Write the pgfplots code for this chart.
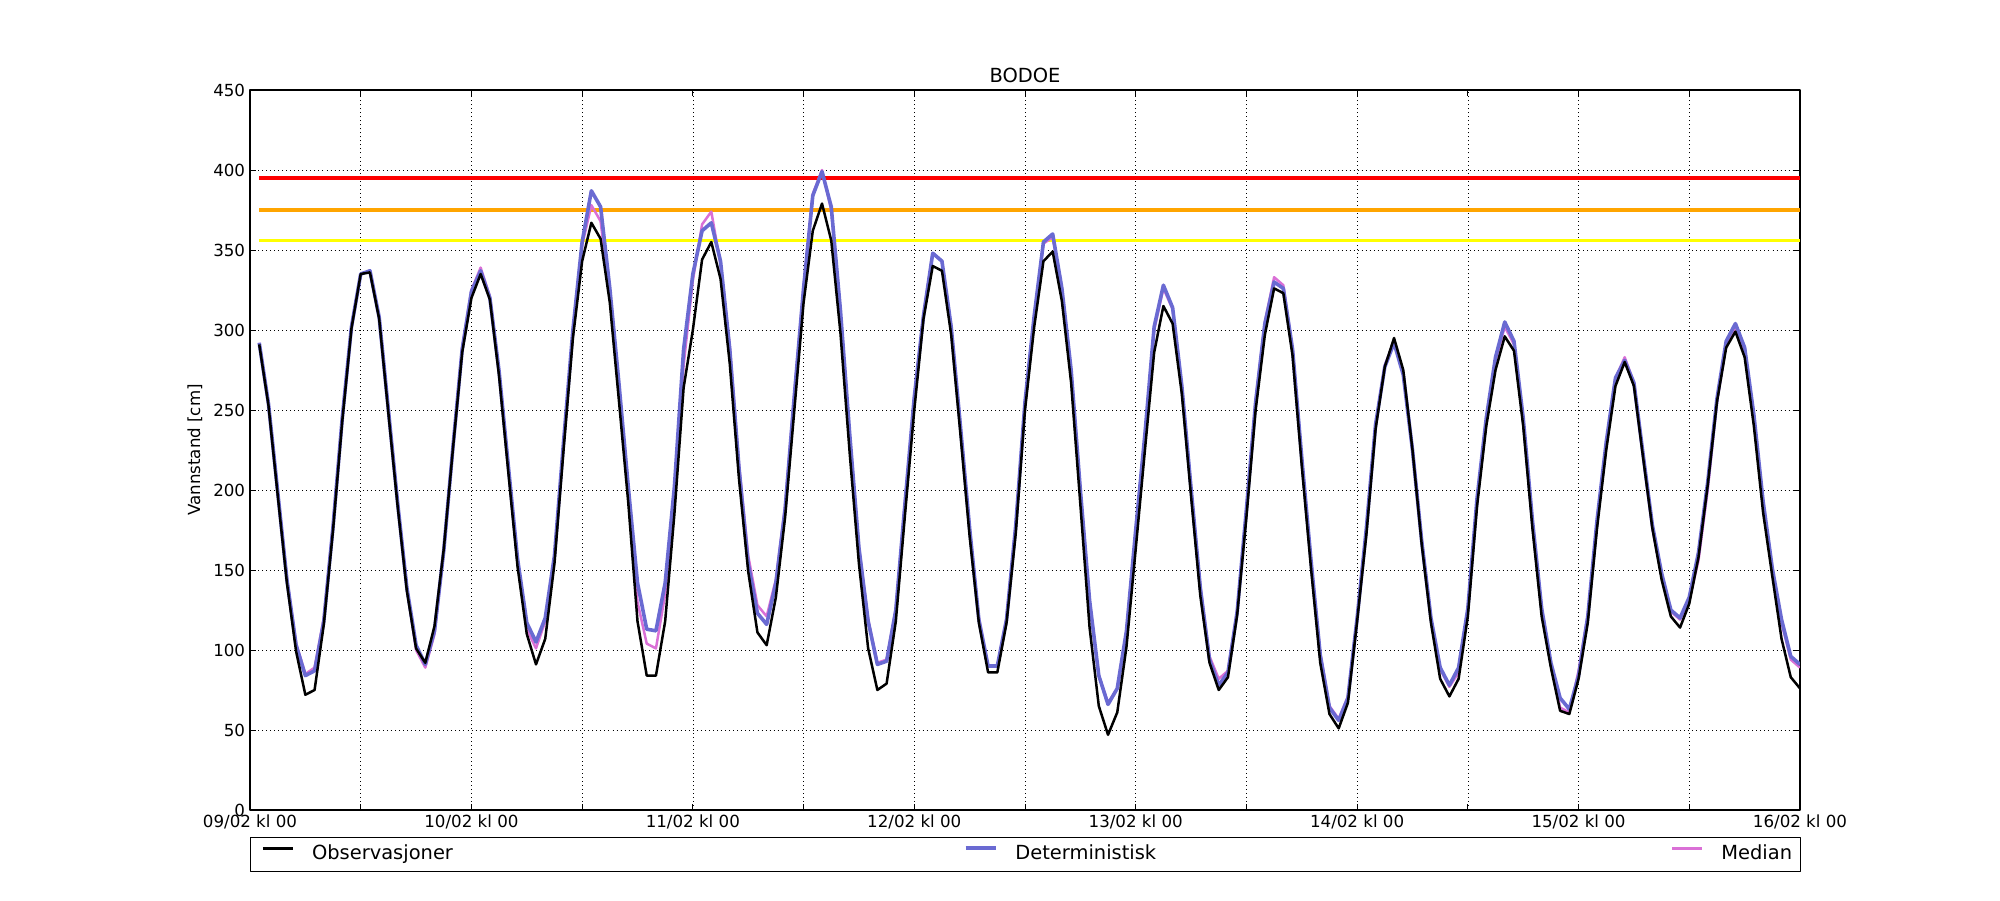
\documentclass[border=0pt]{standalone}
\usepackage{fontspec}
\setmainfont{DejaVu Sans}
\usepackage{pgfplots}
\usepackage{pgfplotstable}
\pgfplotsset{compat=1.18}
\definecolor{detblue}{RGB}{106,106,210}
\definecolor{medpink}{RGB}{218,112,214}
\definecolor{thrred}{RGB}{255,0,0}
\definecolor{throrange}{RGB}{255,165,0}
\definecolor{thryellow}{RGB}{255,255,0}

\pgfplotstableread{
h obs det med
1 291 292 292
2 253 254 254
3 197 199 199
4 142 144 145
5 99 103 104
6 72 84 85
7 75 87 89
8 116 118 120
9 175 177 178
10 243 245 245
11 301 302 302
12 335 335 335
13 336 337 337
14 307 308 308
15 248 250 250
16 190 192 192
17 137 139 139
18 101 103 100
19 92 91 89
20 115 112 110
21 163 162 162
22 226 227 227
23 286 288 289
24 320 324 325
25 335 337 339
26 319 320 321
27 271 274 274
28 211 215 214
29 152 157 156
30 110 117 113
31 91 105 101
32 107 120 118
33 154 159 157
34 226 231 230
35 295 300 299
36 343 355 353
37 367 387 378
38 357 377 368
39 317 326 321
40 255 266 259
41 192 202 197
42 118 142 130
43 84 113 104
44 84 112 101
45 118 142 135
46 185 202 197
47 264 288 278
48 300 335 331
49 344 362 366
50 355 367 374
51 332 343 341
52 279 288 290
53 207 214 216
54 149 154 159
55 111 123 128
56 103 116 121
57 133 142 144
58 183 188 190
59 250 259 260
60 317 326 327
61 362 384 385
62 379 399 400
63 356 377 375
64 298 312 311
65 223 235 234
66 154 164 164
67 101 118 119
68 75 91 92
69 79 93 94
70 118 125 126
71 185 192 193
72 250 258 258
73 307 309 310
74 340 348 348
75 337 343 343
76 297 302 302
77 235 240 240
78 171 176 176
79 117 119 120
80 86 90 90
81 86 90 90
82 117 119 120
83 173 178 178
84 250 255 255
85 302 309 308
86 343 355 354
87 349 360 358
88 318 326 325
89 267 275 274
90 191 200 200
91 114 131 130
92 65 84 84
93 47 66 67
94 61 76 76
95 102 112 112
96 163 175 174
97 225 235 234
98 286 302 300
99 315 328 326
100 304 314 313
101 260 265 265
102 196 201 201
103 134 139 140
104 92 94 96
105 75 78 82
106 83 86 87
107 122 124 125
108 183 188 188
109 250 255 256
110 297 304 305
111 326 330 333
112 323 326 328
113 284 288 288
114 215 220 220
115 151 156 156
116 92 97 98
117 60 64 65
118 51 56 57
119 67 70 71
120 118 120 120
121 172 176 176
122 238 241 241
123 277 277 278
124 295 292 293
125 275 272 273
126 225 225 225
127 166 168 169
128 117 120 120
129 82 89 88
130 71 78 77
131 82 89 86
132 121 126 125
133 190 195 194
134 240 245 244
135 275 283 281
136 296 305 302
137 287 293 291
138 240 245 244
139 176 181 180
140 121 126 126
141 89 92 91
142 62 70 64
143 60 63 61
144 82 84 87
145 117 121 122
146 176 181 180
147 225 230 229
148 265 270 270
149 280 281 283
150 265 267 267
151 220 222 221
152 176 178 176
153 144 148 146
154 121 125 124
155 114 120 119
156 129 133 131
157 158 161 156
158 203 205 200
159 255 257 255
160 289 293 291
161 299 304 302
162 283 289 287
163 240 247 246
164 186 193 192
165 146 151 150
166 107 119 117
167 83 96 94
168 76 91 89
}\datatab

\begin{document}
\begin{tikzpicture}
\useasboundingbox (-180pt,-64.8pt) rectangle (1260pt,583.2pt);
\begin{axis}[
  scale only axis, width=1116pt, height=518.4pt,
  xmin=0, xmax=168, ymin=0, ymax=450,
  xtick={0,12,...,168},
  xticklabels={09/02 kl 00,,10/02 kl 00,,11/02 kl 00,,12/02 kl 00,,13/02 kl 00,,14/02 kl 00,,15/02 kl 00,,16/02 kl 00},
  ytick={0,50,...,450},
  grid=major,
  major grid style={black, line width=0.5pt, dash pattern=on 0.7pt off 2.2pt},
  tick align=inside,
  major tick length=4.5pt,
  tick style={black, line width=0.6pt},
  axis line style={black, line width=1pt},
  ticklabel style={font=\fontsize{12}{14}\selectfont},
  /pgf/number format/assume math mode=true,
  title={BODOE},
  title style={font=\fontsize{14}{17}\selectfont, at={(0.5,1)}, anchor=south, inner sep=0pt, yshift=-1.2pt},
  ylabel={Vannstand [cm]},
  ylabel style={font=\fontsize{12}{14}\selectfont, at={(axis description cs:-0.0355,0.5)}, anchor=center},
  legend columns=3,
  legend cell align=left,
  legend image code/.code={\draw[#1] (0pt,4.5pt) -- (21.5pt,4.5pt);},
  legend style={at={(0,0)}, anchor=north west, yshift=-19.4pt,
    draw=black, line width=0.8pt, inner xsep=8pt, inner ysep=5.5pt,
    font=\fontsize{14}{16}\selectfont,
    column sep=0pt,
    nodes={inner sep=0pt, text height=10.5pt, text depth=3pt},
    /tikz/every odd column/.append style={column sep=13pt}},
  line join=round,
]
\addlegendimage{black, line width=1.8pt}
\addlegendentry{\makebox[469.3pt][l]{Observasjoner}}
\addlegendimage{detblue, line width=2.6pt}
\addlegendentry{\makebox[472pt][l]{Deterministisk}}
\addlegendimage{medpink, line width=1.8pt}
\addlegendentry{\makebox[48.7pt][l]{Median}}

\addplot[thrred, line width=2.2pt, forget plot] coordinates {(1,395) (168,395)};
\addplot[throrange, line width=2.2pt, forget plot] coordinates {(1,375) (168,375)};
\addplot[thryellow, line width=2.2pt, forget plot] coordinates {(1,356) (168,356)};

\addplot[medpink, line width=1.8pt, forget plot] table[x=h, y=med] {\datatab};
\addplot[detblue, line width=2.6pt, forget plot] table[x=h, y=det] {\datatab};
\addplot[black, line width=1.8pt, forget plot] table[x=h, y=obs] {\datatab};
\end{axis}
\end{tikzpicture}
\end{document}
